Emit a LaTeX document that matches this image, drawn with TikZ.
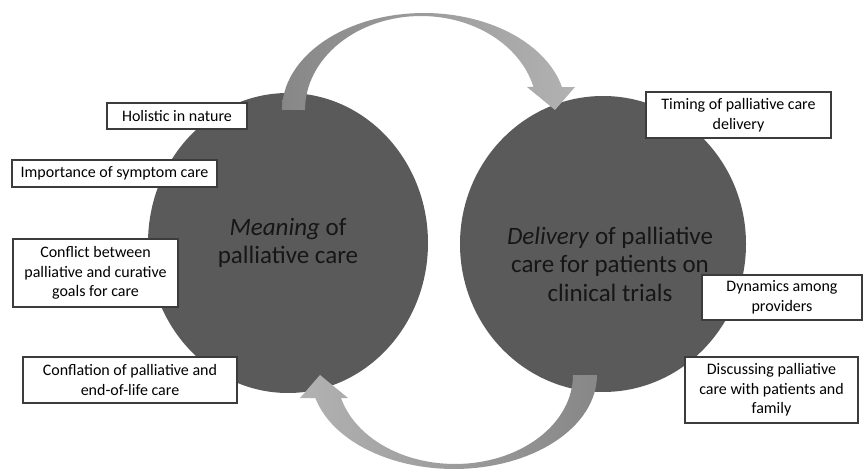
\documentclass[tikz,border=0pt]{standalone}
\usepackage{fontspec}
\setmainfont{Carlito}
\usetikzlibrary{shapes.geometric}
\definecolor{discgray}{HTML}{5A5A5A}
\definecolor{boxline}{HTML}{3C3C3C}
\definecolor{textdark}{HTML}{161616}
\definecolor{arrowdark}{HTML}{878787}
\definecolor{arrowlight}{HTML}{B2B2B2}
\begin{document}
\begin{tikzpicture}[x=1pt,y=-1pt,
  box/.style={draw=boxline, line width=1.2pt, fill=white, align=center, inner sep=0pt,
    font=\fontsize{16}{19.5}\selectfont, text=black},
  disc/.style={ellipse, fill=discgray, inner sep=0pt},
  bigtext/.style={align=center, inner sep=0pt, font=\fontsize{25}{28.5}\selectfont, text=textdark},
  toparrow/.style={left color=arrowdark, right color=arrowlight},
  botarrow/.style={left color=arrowlight, right color=arrowdark}]
\useasboundingbox (0,0) rectangle (865,470);
% discs
\node[disc, minimum width=280pt, minimum height=300pt] (meaning) at (288,243) {};
\node[disc, minimum width=286pt, minimum height=296pt] (delivery) at (603,244) {};
% curved block arrows
\shade[toparrow] plot[domain=180:346.3, samples=60, variable=\t] ({424+142*cos(\t)},{110+97*sin(\t)})
  -- (575,87) -- (555,110) -- (527,87)
  -- plot[domain=345.8:180, samples=60, variable=\t] ({421+116*cos(\t)},{110+94*sin(\t)}) -- cycle;
\shade[botarrow] plot[domain=0:165.8, samples=60, variable=\t] ({454+143*cos(\t)},{375+94*sin(\t)})
  -- (300,398) -- (320,375) -- (348,398)
  -- plot[domain=165:0, samples=60, variable=\t] ({455+118*cos(\t)},{375+89*sin(\t)}) -- cycle;
% disc texts
\node[bigtext] (meaningtext) at (288,243) {\textit{Meaning} of\\palliative care};
\node[bigtext] (deliverytext) at (610,264) {\textit{Delivery} of palliative\\care for patients on\\clinical trials};
% boxes
\node[box, minimum width=140pt, minimum height=26pt] (holistic) at (177,116) {Holistic in nature};
\node[box, minimum width=205pt, minimum height=27pt] (importance) at (114.5,173.5) {Importance of symptom care};
\node[box, minimum width=165pt, minimum height=68pt] (conflict) at (95.5,273) {Conflict between\\palliative and curative\\goals for care};
\node[box, minimum width=214pt, minimum height=46pt] (conflation) at (130,380) {Conflation of palliative and\\end-of-life care};
\node[box, minimum width=185pt, minimum height=46pt] (timing) at (738.5,115) {Timing of palliative care\\delivery};
\node[box, minimum width=160pt, minimum height=45pt] (dynamics) at (782,297.5) {Dynamics among\\providers};
\node[box, minimum width=173pt, minimum height=66pt] (discussing) at (771.5,390) {Discussing palliative\\care with patients and\\family};
\end{tikzpicture}
\end{document}
